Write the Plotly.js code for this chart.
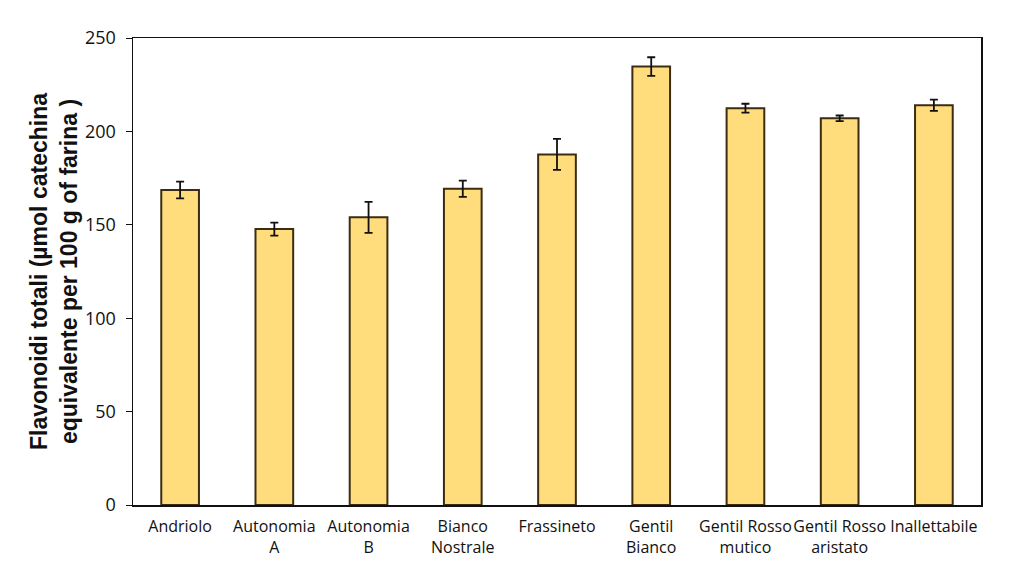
<!DOCTYPE html>
<html>
<head>
<meta charset="utf-8">
<script src="https://cdn.plot.ly/plotly-3.0.1.min.js"></script>
<style>html,body{margin:0;padding:0;background:#fff;}#chart{width:1024px;height:577px;}</style>
</head>
<body>
<div id="chart"></div>
<script>
const categories = ["Andriolo", "Autonomia<br>A", "Autonomia<br>B", "Bianco<br>Nostrale", "Frassineto", "Gentil<br>Bianco", "Gentil Rosso<br>mutico", "Gentil Rosso<br>aristato", "Inallettabile"];
const values = [168.6, 147.7, 154.0, 169.3, 187.7, 234.7, 212.4, 207.0, 214.0];
const errors = [4.5, 3.5, 8.3, 4.4, 8.3, 5.0, 2.4, 1.5, 3.0];
const yTicks = [0, 50, 100, 150, 200, 250];

const trace = {
  type: "bar",
  x: categories,
  y: values,
  width: 0.4,
  marker: { color: "#FFDC7C", line: { color: "#3b2c12", width: 2 } },
  error_y: { type: "data", array: errors, visible: true, color: "#111", thickness: 1.8, width: 4 },
  hoverinfo: "skip"
};

const layout = {
  width: 1024, height: 577,
  margin: { l: 133, r: 43, t: 38, b: 72 },
  paper_bgcolor: "#fff", plot_bgcolor: "#fff",
  showlegend: false,
  bargap: 0.6,
  font: { family: "'Open Sans', Lato, sans-serif", color: "#111", size: 15 },
  xaxis: {
    showline: true, mirror: true, linecolor: "#111", linewidth: 1.5,
    ticks: "", showgrid: false, tickfont: { size: 16 }, tickangle: 0, automargin: false,
    ticklabelstandoff: 6
  },
  yaxis: {
    range: [0, 250], tickvals: yTicks, ticktext: yTicks.map(String),
    showline: true, mirror: true, linecolor: "#111", linewidth: 1.5,
    ticks: "outside", ticklen: 6, tickcolor: "#111", showgrid: false, zeroline: false,
    tickfont: { size: 18 }, automargin: false, ticklabelstandoff: 6,
    title: { text: "Flavonoidi totali (µmol catechina<br>equivalente per 100 g of farina )", font: { family: "'Liberation Sans', Arial, sans-serif", size: 23, color: "#111", weight: "bold" }, standoff: 1 }
  }
};

Plotly.newPlot("chart", [trace], layout, { displayModeBar: false, staticPlot: true });
</script>
</body>
</html>
